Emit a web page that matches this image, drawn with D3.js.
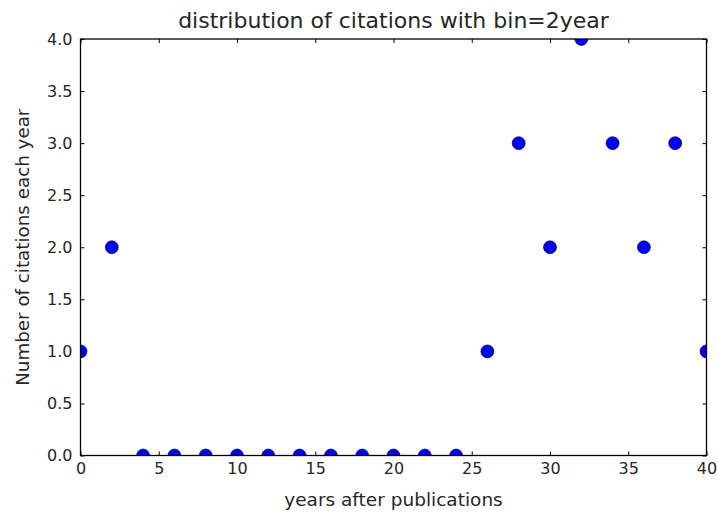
<!DOCTYPE html>
<html>
<head>
<meta charset="utf-8">
<script src="https://cdn.jsdelivr.net/npm/d3@7"></script>
<style>
  html, body { margin: 0; padding: 0; background: #fff; }
  text { font-family: "DejaVu Sans", sans-serif; fill: #262626; }
</style>
</head>
<body>
<svg id="chart" width="717" height="512"></svg>
<script>
// Citation counts per 2-year bin
const years = [0, 2, 4, 6, 8, 10, 12, 14, 16, 18, 20, 22, 24, 26, 28, 30, 32, 34, 36, 38, 40];
const citations = [1, 2, 0, 0, 0, 0, 0, 0, 0, 0, 0, 0, 0, 1, 3, 2, 4, 3, 2, 3, 1];
const xTicks = [0, 5, 10, 15, 20, 25, 30, 35, 40];
const yTicks = [0, 0.5, 1, 1.5, 2, 2.5, 3, 3.5, 4];
const titleText = "distribution of citations with bin=2year";
const xLabel = "years after publications";
const yLabel = "Number of citations each year";

const svg = d3.select("#chart");
const m = { left: 80.5, right: 706.5, top: 39, bottom: 455.5 };

const x = d3.scaleLinear().domain([0, 40]).range([m.left, m.right]);
const y = d3.scaleLinear().domain([0, 4]).range([m.bottom, m.top]);

svg.append("defs").append("clipPath").attr("id", "plotclip")
  .append("rect")
  .attr("x", m.left).attr("y", m.top)
  .attr("width", m.right - m.left).attr("height", m.bottom - m.top);

// Points (clipped to the axes box)
svg.append("g").attr("clip-path", "url(#plotclip)")
  .selectAll("circle")
  .data(years.map((yr, i) => [yr, citations[i]]))
  .join("circle")
  .attr("cx", d => x(d[0]))
  .attr("cy", d => y(d[1]))
  .attr("r", 6.5)
  .attr("fill", "#0000ff")
  .attr("stroke", "#000")
  .attr("stroke-width", 0.6);

const tickLen = 4;
const fs = 16;

// Bottom axis with inward ticks, labels below
const axBottom = svg.append("g").attr("transform", `translate(0,${m.bottom})`)
  .call(d3.axisBottom(x).tickValues(xTicks).tickFormat(d3.format("d")).tickSize(-tickLen).tickPadding(7));
// Top axis: ticks only
const axTop = svg.append("g").attr("transform", `translate(0,${m.top})`)
  .call(d3.axisTop(x).tickValues(xTicks).tickFormat("").tickSize(-tickLen));
// Left axis
const axLeft = svg.append("g").attr("transform", `translate(${m.left},0)`)
  .call(d3.axisLeft(y).tickValues(yTicks).tickFormat(d3.format(".1f")).tickSize(-tickLen).tickPadding(8));
// Right axis: ticks only
const axRight = svg.append("g").attr("transform", `translate(${m.right},0)`)
  .call(d3.axisRight(y).tickValues(yTicks).tickFormat("").tickSize(-tickLen));

[axBottom, axTop, axLeft, axRight].forEach(g => {
  g.select(".domain").remove();
  g.selectAll(".tick line").attr("stroke", "#000").attr("stroke-width", 1);
  g.selectAll("text").attr("font-family", "DejaVu Sans").attr("font-size", fs).attr("fill", "#262626");
});

// Axes frame
svg.append("rect")
  .attr("x", m.left).attr("y", m.top)
  .attr("width", m.right - m.left).attr("height", m.bottom - m.top)
  .attr("fill", "none").attr("stroke", "#000").attr("stroke-width", 1.3);

// Title and axis labels
svg.append("text")
  .attr("x", (m.left + m.right) / 2).attr("y", 28)
  .attr("text-anchor", "middle").attr("font-size", 22)
  .text(titleText);

svg.append("text")
  .attr("x", (m.left + m.right) / 2).attr("y", 506)
  .attr("text-anchor", "middle").attr("font-size", 18.5)
  .text(xLabel);

svg.append("text")
  .attr("transform", `translate(29,${(m.top + m.bottom) / 2}) rotate(-90)`)
  .attr("text-anchor", "middle").attr("font-size", 18.3)
  .text(yLabel);
</script>
</body>
</html>
